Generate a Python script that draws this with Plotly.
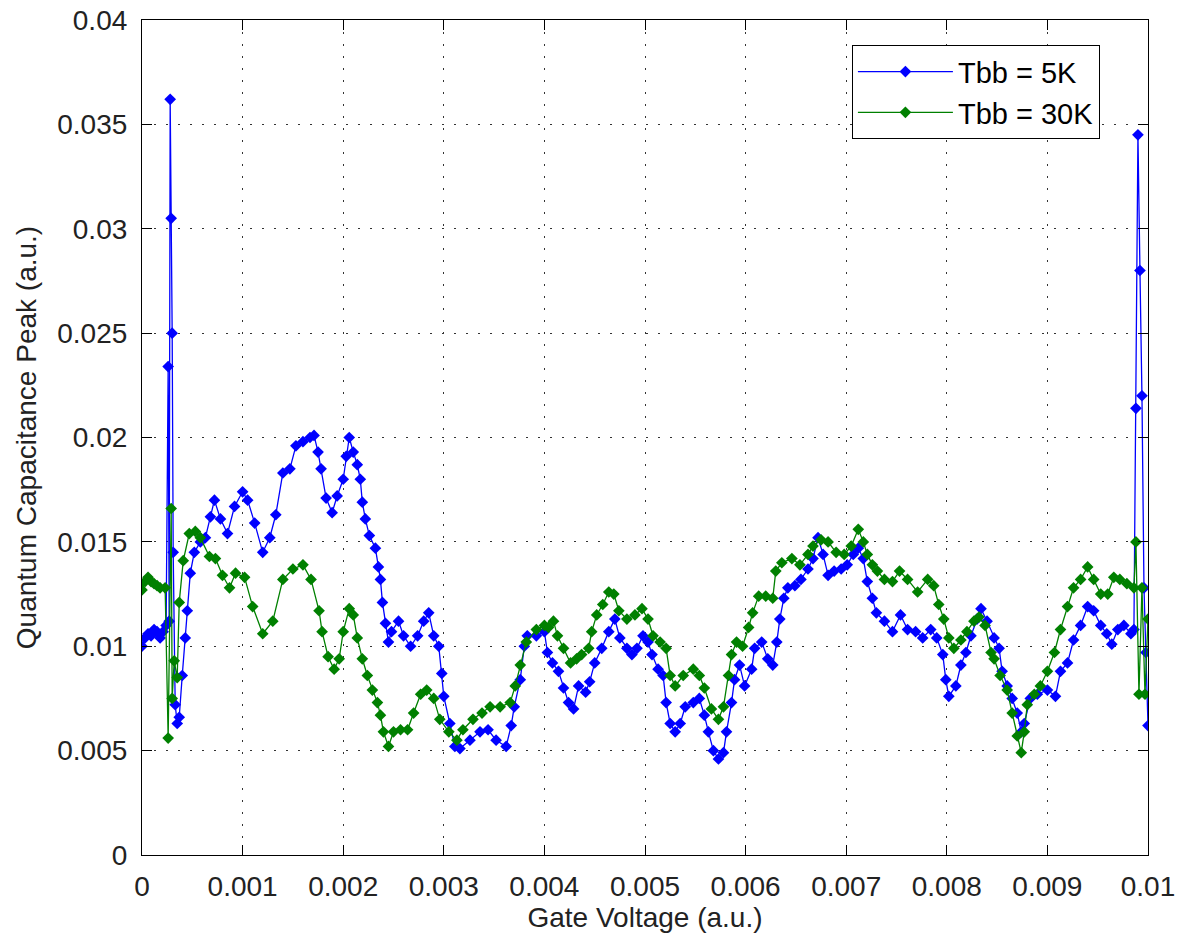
import plotly.graph_objects as go

# ---- data ----
blue_x = [0.00000, 0.00003, 0.00006, 0.00009, 0.00012, 0.00015, 0.00018, 0.00021, 0.00024, 0.00026,
          0.00027, 0.00028, 0.00029, 0.00030, 0.00031, 0.00033, 0.00035, 0.00037, 0.00040, 0.00043,
          0.00045, 0.00048, 0.00052, 0.00058, 0.00063, 0.00068, 0.00072, 0.00078, 0.00085, 0.00092,
          0.00100, 0.00105, 0.00112, 0.00120, 0.00127, 0.00133, 0.00140, 0.00147, 0.00153, 0.00160,
          0.00167, 0.00171, 0.00175, 0.00178, 0.00183, 0.00189, 0.00194, 0.00200, 0.00203, 0.00206,
          0.00210, 0.00214, 0.00217, 0.00219, 0.00222, 0.00226, 0.00232, 0.00235, 0.00237, 0.00239,
          0.00242, 0.00245, 0.00248, 0.00255, 0.00260, 0.00267, 0.00274, 0.00280, 0.00285, 0.00290,
          0.00295, 0.00298, 0.00300, 0.00306, 0.00311, 0.00316, 0.00326, 0.00336, 0.00344, 0.00352,
          0.00362, 0.00367, 0.00370, 0.00376, 0.00380, 0.00383, 0.00392, 0.00400, 0.00403, 0.00408,
          0.00414, 0.00419, 0.00424, 0.00429, 0.00434, 0.00441, 0.00445, 0.00450, 0.00457, 0.00464,
          0.00470, 0.00475, 0.00482, 0.00487, 0.00492, 0.00498, 0.00503, 0.00507, 0.00513, 0.00518,
          0.00521, 0.00525, 0.00530, 0.00535, 0.00540, 0.00548, 0.00554, 0.00559, 0.00563, 0.00568,
          0.00573, 0.00578, 0.00581, 0.00586, 0.00589, 0.00594, 0.00599, 0.00606, 0.00609, 0.00616,
          0.00622, 0.00627, 0.00631, 0.00634, 0.00638, 0.00642, 0.00649, 0.00655, 0.00662, 0.00667,
          0.00672, 0.00677, 0.00682, 0.00688, 0.00695, 0.00701, 0.00707, 0.00712, 0.00717, 0.00721,
          0.00726, 0.00730, 0.00738, 0.00746, 0.00754, 0.00761, 0.00769, 0.00776, 0.00784, 0.00790,
          0.00796, 0.00799, 0.00802, 0.00809, 0.00814, 0.00819, 0.00824, 0.00830, 0.00834, 0.00840,
          0.00847, 0.00852, 0.00855, 0.00860, 0.00865, 0.00870, 0.00874, 0.00877, 0.00883, 0.00890,
          0.00900, 0.00908, 0.00913, 0.00920, 0.00926, 0.00933, 0.00940, 0.00946, 0.00953, 0.00959,
          0.00964, 0.00970, 0.00976, 0.00983, 0.00986, 0.00988, 0.00990, 0.00992, 0.00994, 0.00996,
          0.00998, 0.01000]
blue_y = [0.0100, 0.0104, 0.0106, 0.0105, 0.0108, 0.0107, 0.0104, 0.0107, 0.0110, 0.0234,
          0.0112, 0.0362, 0.0305, 0.0250, 0.0145, 0.0072, 0.0063, 0.0066, 0.0086, 0.0104,
          0.0117, 0.0135, 0.0145, 0.0150, 0.0152, 0.0162, 0.0170, 0.0161, 0.0154, 0.0167,
          0.0174, 0.0170, 0.0159, 0.0145, 0.0152, 0.0163, 0.0183, 0.0185, 0.0196, 0.0198,
          0.0200, 0.0201, 0.0193, 0.0185, 0.0171, 0.0164, 0.0172, 0.0180, 0.0191, 0.0200,
          0.0193, 0.0187, 0.0180, 0.0169, 0.0161, 0.0153, 0.0147, 0.0138, 0.0132, 0.0121,
          0.0111, 0.0102, 0.0107, 0.0112, 0.0105, 0.0100, 0.0105, 0.0112, 0.0116, 0.0105,
          0.0100, 0.0087, 0.0076, 0.0063, 0.0052, 0.0051, 0.0055, 0.0059, 0.0060, 0.0055,
          0.0052, 0.0062, 0.0071, 0.0084, 0.0100, 0.0105, 0.0105, 0.0107, 0.0097, 0.0092,
          0.0088, 0.0080, 0.0073, 0.0070, 0.0081, 0.0078, 0.0083, 0.0092, 0.0099, 0.0107,
          0.0113, 0.0104, 0.0099, 0.0096, 0.0099, 0.0105, 0.0102, 0.0096, 0.0089, 0.0086,
          0.0073, 0.0063, 0.0059, 0.0063, 0.0071, 0.0073, 0.0075, 0.0067, 0.0059, 0.0050,
          0.0046, 0.0049, 0.0059, 0.0073, 0.0084, 0.0091, 0.0081, 0.0089, 0.0099, 0.0102,
          0.0094, 0.0091, 0.0102, 0.0113, 0.0123, 0.0128, 0.0129, 0.0132, 0.0137, 0.0142,
          0.0152, 0.0144, 0.0134, 0.0136, 0.0137, 0.0139, 0.0144, 0.0147, 0.0142, 0.0131,
          0.0123, 0.0116, 0.0112, 0.0107, 0.0115, 0.0108, 0.0107, 0.0104, 0.0108, 0.0104,
          0.0096, 0.0084, 0.0076, 0.0081, 0.0091, 0.0097, 0.0105, 0.0113, 0.0118, 0.0112,
          0.0104, 0.0099, 0.0088, 0.0081, 0.0075, 0.0068, 0.0059, 0.0063, 0.0075, 0.0077,
          0.0079, 0.0076, 0.0088, 0.0092, 0.0103, 0.0110, 0.0119, 0.0117, 0.0110, 0.0106,
          0.0101, 0.0108, 0.0110, 0.0106, 0.0108, 0.0214, 0.0345, 0.0280, 0.0220, 0.0128,
          0.0097, 0.0062]

green_x = [0.00000, 0.00003, 0.00006, 0.00009, 0.00012, 0.00015, 0.00018, 0.00023, 0.00026, 0.00029,
           0.00030, 0.00032, 0.00035, 0.00037, 0.00041, 0.00047, 0.00053, 0.00058, 0.00067, 0.00073,
           0.00080, 0.00087, 0.00093, 0.00102, 0.00110, 0.00120, 0.00130, 0.00140, 0.00150, 0.00160,
           0.00168, 0.00176, 0.00179, 0.00185, 0.00191, 0.00196, 0.00200, 0.00206, 0.00210, 0.00214,
           0.00219, 0.00224, 0.00229, 0.00234, 0.00237, 0.00240, 0.00245, 0.00250, 0.00257, 0.00264,
           0.00270, 0.00277, 0.00283, 0.00290, 0.00296, 0.00305, 0.00313, 0.00319, 0.00329, 0.00338,
           0.00346, 0.00356, 0.00366, 0.00371, 0.00376, 0.00382, 0.00392, 0.00400, 0.00404, 0.00409,
           0.00413, 0.00419, 0.00426, 0.00432, 0.00437, 0.00444, 0.00447, 0.00452, 0.00458, 0.00464,
           0.00469, 0.00474, 0.00482, 0.00490, 0.00497, 0.00503, 0.00508, 0.00515, 0.00521, 0.00525,
           0.00530, 0.00538, 0.00548, 0.00554, 0.00559, 0.00566, 0.00573, 0.00578, 0.00583, 0.00586,
           0.00591, 0.00597, 0.00603, 0.00607, 0.00613, 0.00620, 0.00627, 0.00630, 0.00636, 0.00646,
           0.00654, 0.00662, 0.00667, 0.00675, 0.00682, 0.00690, 0.00698, 0.00705, 0.00712, 0.00717,
           0.00721, 0.00726, 0.00731, 0.00738, 0.00746, 0.00753, 0.00761, 0.00771, 0.00781, 0.00787,
           0.00792, 0.00797, 0.00802, 0.00807, 0.00814, 0.00820, 0.00827, 0.00832, 0.00838, 0.00844,
           0.00847, 0.00853, 0.00860, 0.00865, 0.00870, 0.00874, 0.00877, 0.00880, 0.00887, 0.00893,
           0.00900, 0.00907, 0.00913, 0.00920, 0.00926, 0.00933, 0.00940, 0.00946, 0.00953, 0.00960,
           0.00966, 0.00972, 0.00979, 0.00986, 0.00988, 0.00991, 0.00994, 0.00997, 0.01000]
green_y = [0.0127, 0.0131, 0.0133, 0.0131, 0.0130, 0.0129, 0.0128, 0.0128, 0.0056, 0.0166,
           0.0075, 0.0093, 0.0085, 0.0121, 0.0141, 0.0154, 0.0155, 0.0152, 0.0143, 0.0142,
           0.0134, 0.0128, 0.0135, 0.0133, 0.0119, 0.0106, 0.0112, 0.0132, 0.0137, 0.0139,
           0.0132, 0.0117, 0.0107, 0.0095, 0.0089, 0.0094, 0.0107, 0.0118, 0.0115, 0.0104,
           0.0094, 0.0086, 0.0079, 0.0073, 0.0067, 0.0059, 0.0052, 0.0059, 0.0060, 0.0060,
           0.0068, 0.0077, 0.0079, 0.0075, 0.0065, 0.0059, 0.0055, 0.0060, 0.0065, 0.0068,
           0.0071, 0.0071, 0.0073, 0.0081, 0.0091, 0.0102, 0.0108, 0.0110, 0.0109, 0.0112,
           0.0105, 0.0099, 0.0092, 0.0094, 0.0096, 0.0099, 0.0107, 0.0115, 0.0120, 0.0126,
           0.0125, 0.0117, 0.0113, 0.0115, 0.0118, 0.0113, 0.0105, 0.0102, 0.0099, 0.0086,
           0.0081, 0.0086, 0.0089, 0.0086, 0.0080, 0.0070, 0.0065, 0.0071, 0.0086, 0.0096,
           0.0102, 0.0100, 0.0109, 0.0116, 0.0124, 0.0124, 0.0123, 0.0136, 0.0140, 0.0142,
           0.0139, 0.0144, 0.0148, 0.0151, 0.0150, 0.0145, 0.0144, 0.0148, 0.0156, 0.0150,
           0.0144, 0.0139, 0.0136, 0.0132, 0.0131, 0.0136, 0.0132, 0.0126, 0.0132, 0.0129,
           0.0120, 0.0113, 0.0104, 0.0099, 0.0103, 0.0107, 0.0112, 0.0114, 0.0110, 0.0097,
           0.0094, 0.0086, 0.0079, 0.0068, 0.0057, 0.0049, 0.0059, 0.0072, 0.0077, 0.0081,
           0.0088, 0.0097, 0.0108, 0.0119, 0.0128, 0.0132, 0.0138, 0.0132, 0.0125, 0.0125,
           0.0133, 0.0132, 0.0130, 0.0128, 0.0150, 0.0077, 0.0128, 0.0077, 0.0113]

series_names = ["Tbb = 5K", "Tbb = 30K"]
x_tickvals = [0, 0.001, 0.002, 0.003, 0.004, 0.005, 0.006, 0.007, 0.008, 0.009, 0.01]
x_ticktext = ["0", "0.001", "0.002", "0.003", "0.004", "0.005", "0.006", "0.007", "0.008", "0.009", "0.01"]
y_tickvals = [0, 0.005, 0.01, 0.015, 0.02, 0.025, 0.03, 0.035, 0.04]
y_ticktext = ["0", "0.005", "0.01", "0.015", "0.02", "0.025", "0.03", "0.035", "0.04"]

FONT = "Liberation Sans, Arial, sans-serif"

fig = go.Figure()
fig.add_trace(go.Scatter(
    x=blue_x, y=blue_y, name=series_names[0], mode="lines+markers",
    line=dict(color="#0000ff", width=1.3),
    marker=dict(symbol="diamond", size=9, color="#0000ff"),
))
fig.add_trace(go.Scatter(
    x=green_x, y=green_y, name=series_names[1], mode="lines+markers",
    line=dict(color="#008000", width=1.3),
    marker=dict(symbol="diamond", size=9, color="#008000"),
))

axis_common = dict(
    automargin=False,
    showline=True, linecolor="black", linewidth=1.2, mirror="ticks",
    ticks="inside", ticklen=10, tickcolor="black", tickwidth=1,
    showgrid=True, gridcolor="#333333", gridwidth=1, griddash="2px,10px",
    zeroline=False, tickfont=dict(family=FONT, size=28, color="#222222"),
)

fig.update_xaxes(
    range=[0, 0.01], tickvals=x_tickvals, ticktext=x_ticktext,
    title=dict(text="Gate Voltage (a.u.)", font=dict(family=FONT, size=28, color="#222222"), standoff=4),
    ticklabelstandoff=6,
    **axis_common,
)
fig.update_yaxes(
    range=[0, 0.04], tickvals=y_tickvals, ticktext=y_ticktext,
    title=dict(text="Quantum Capacitance Peak (a.u.)", font=dict(family=FONT, size=28, color="#222222"), standoff=12),
    ticklabelstandoff=8,
    **axis_common,
)

fig.update_layout(
    template="none",
    width=1177, height=941,
    margin=dict(l=142, r=29, t=20, b=86),
    paper_bgcolor="white", plot_bgcolor="white",
    showlegend=True,
    legend=dict(
        x=0.952, y=0.970, xanchor="right", yanchor="top",
        bgcolor="white", bordercolor="black", borderwidth=1.2,
        font=dict(family=FONT, size=29, color="black"),
        itemwidth=95,
    ),
)

fig.write_html("out.html")
